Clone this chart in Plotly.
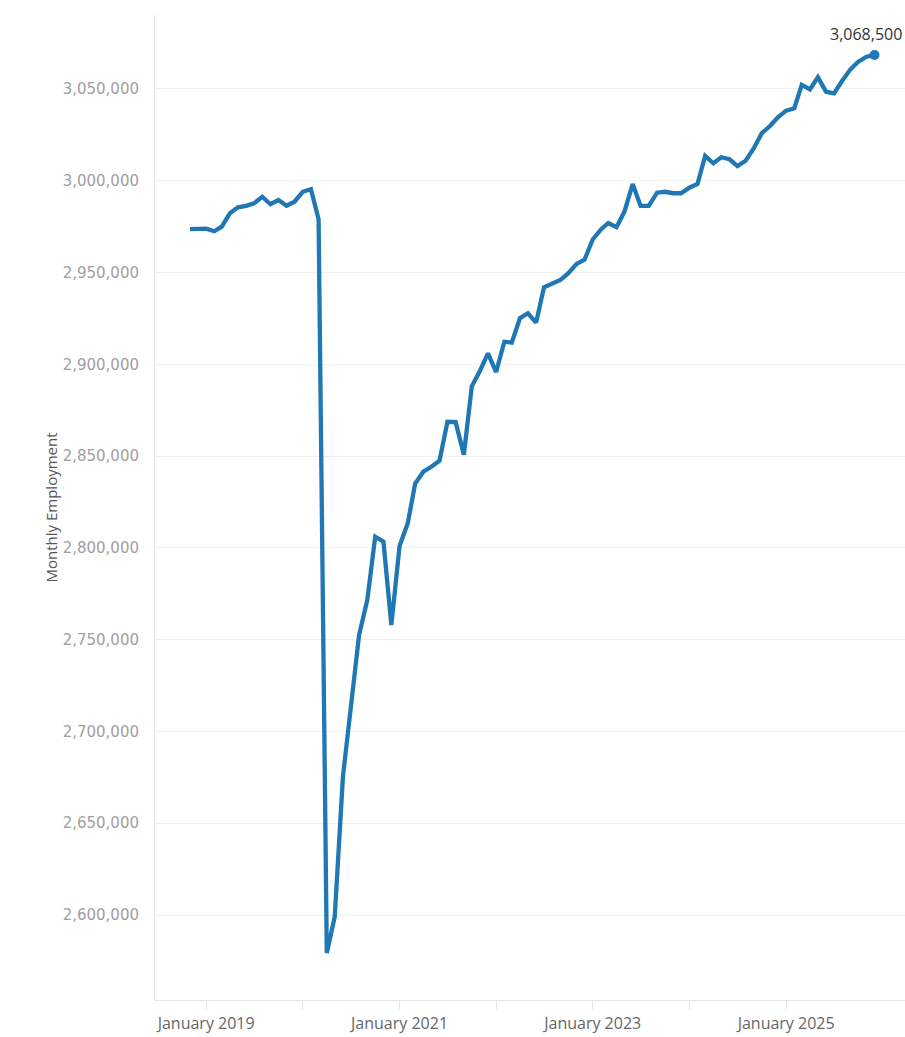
import datetime as dt
import plotly.graph_objects as go

# ---- data -------------------------------------------------------------
start_year, start_month = 2018, 11
employment = [
    2973600, 2973900,                                                   # 2018 Nov-Dec
    2973900, 2972500, 2975000, 2982300, 2985500, 2986300,
    2987700, 2991300, 2987200, 2989500, 2986400, 2988600,               # 2019
    2994000, 2995400, 2979000, 2579300, 2599100, 2675400,
    2714000, 2752500, 2771600, 2806100, 2803400, 2758000,               # 2020
    2801000, 2813400, 2835000, 2841500, 2844200, 2847500,
    2868700, 2868500, 2850800, 2888000, 2896500, 2906000,               # 2021
    2895800, 2912300, 2911800, 2925100, 2927800, 2922700,
    2942000, 2943800, 2946000, 2949600, 2954700, 2957000,               # 2022
    2968000, 2973500, 2977000, 2974700, 2983200, 2998200,
    2986300, 2986300, 2993500, 2994000, 2993200, 2993200,               # 2023
    2996200, 2998200, 3013500, 3009500, 3012800, 3011700,
    3008000, 3010900, 3017700, 3025900, 3029800, 3034600,               # 2024
    3038200, 3039500, 3052200, 3049800, 3056400, 3048500,
    3047600, 3054500, 3060700, 3064900, 3067600, 3068500,               # 2025
]
months = []
y, m = start_year, start_month
for _ in employment:
    months.append(dt.date(y, m, 1))
    m += 1
    if m > 12:
        m, y = 1, y + 1

tick_years = [2019, 2020, 2021, 2022, 2023, 2024, 2025]
tick_labels = ["January 2019", "", "January 2021", "", "January 2023", "", "January 2025"]
y_ticks = list(range(2600000, 3050001, 50000))

# ---- layout geometry --------------------------------------------------
W, H = 905, 1037
ML, MR, MT, MB = 155, 0, 15, 37
plot_w = W - ML - MR
px_first, px_last = 190 - ML, 874.5 - ML
span_days = (months[-1] - months[0]).days
ppd = (px_last - px_first) / span_days
x0 = dt.datetime.combine(months[0], dt.time()) - dt.timedelta(days=px_first / ppd)
x1 = dt.datetime.combine(months[-1], dt.time()) + dt.timedelta(days=(plot_w - px_last) / ppd)

blue = "#1f77b4"

fig = go.Figure()
fig.add_trace(go.Scatter(
    x=months, y=employment, mode="lines",
    line=dict(color=blue, width=4.3), hoverinfo="x+y", showlegend=False,
))
fig.add_trace(go.Scatter(
    x=[months[-1]], y=[employment[-1]], mode="markers",
    marker=dict(color=blue, size=10), showlegend=False,
))
fig.add_annotation(
    x=months[-1], y=employment[-1], text=f"{employment[-1]:,}",
    showarrow=False, yshift=21, xshift=-9,
    font=dict(family="Open Sans, sans-serif", size=16, color="#333333"),
)
fig.add_annotation(
    xref="paper", yref="paper", x=(38 - ML) / plot_w, y=0.5,
    text="Monthly Employment", textangle=-90, showarrow=False,
    font=dict(family="Open Sans, sans-serif", size=15, color="#555555"),
)

fig.update_layout(
    width=W, height=H, autosize=False,
    margin=dict(l=ML, r=MR, t=MT, b=MB, pad=0),
    paper_bgcolor="white", plot_bgcolor="white",
    xaxis=dict(
        type="date", range=[x0, x1],
        tickvals=[dt.date(yr, 1, 1) for yr in tick_years], ticktext=tick_labels,
        ticks="outside", ticklen=9, tickcolor="#e6e6e6", tickwidth=1,
        showgrid=False, zeroline=False,
        showline=True, linecolor="#e6e6e6", linewidth=1,
        tickfont=dict(family="Open Sans, sans-serif", size=16, color="#666666"),
    ),
    yaxis=dict(
        range=[2553700, 3090300],
        tickvals=y_ticks, tickformat=",d",
        showgrid=True, gridcolor="#f0f0f0", gridwidth=1,
        zeroline=False, showline=True, linecolor="#e6e6e6", linewidth=1,
        ticks="", ticklabelstandoff=12,
        tickfont=dict(family="DejaVu Sans, sans-serif", size=15, color="#a0a0a0"),
    ),
)

fig.write_html("out.html", config={"displayModeBar": False},
               post_script="document.body.style.margin='0';")
